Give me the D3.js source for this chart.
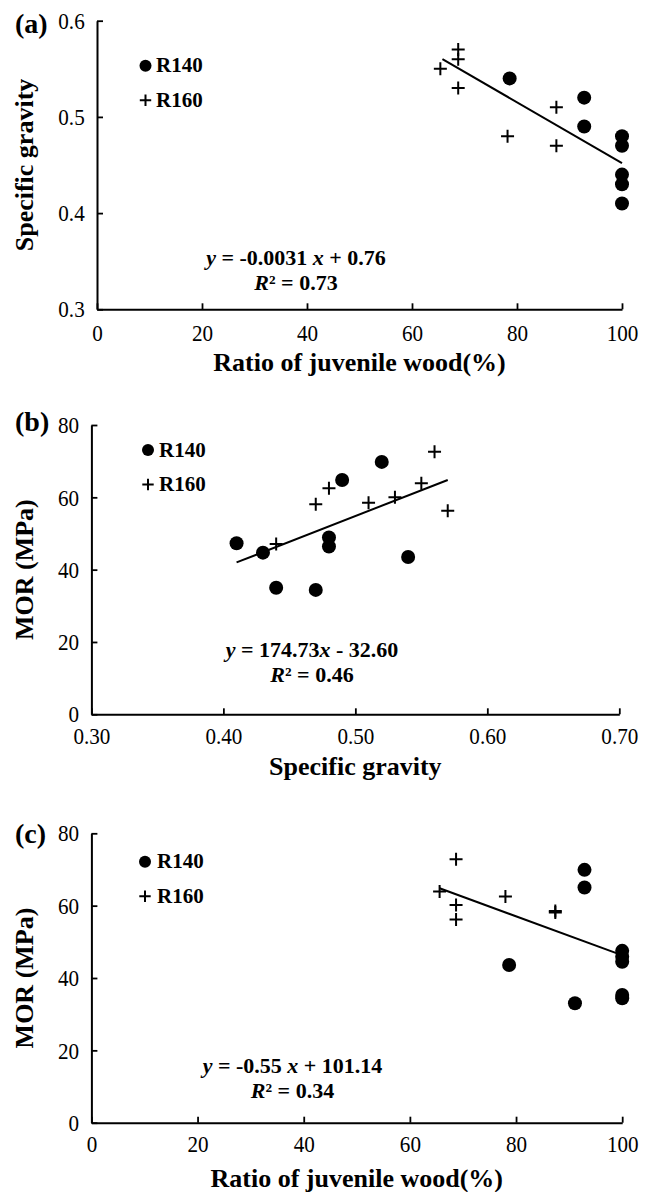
<!DOCTYPE html>
<html>
<head>
<meta charset="utf-8">
<script src="https://cdn.jsdelivr.net/npm/d3@7"></script>
<style>
  body { margin: 0; background: #fff; }
  svg text { font-family: "Liberation Serif", "Times New Roman", serif; fill: #000; }
</style>
</head>
<body>
<div id="chart"></div>
<script>
// (a) specific gravity vs ratio of juvenile wood (%)
var sgJuvR140 = [[78.6,0.54],[92.8,0.52],[92.8,0.49],[100,0.48],[100,0.47],[100,0.44],[100,0.43],[100,0.41]];
var sgJuvR160 = [[65.4,0.55],[68.8,0.57],[68.8,0.56],[68.8,0.53],[78.2,0.48],[87.5,0.51],[87.5,0.47]];
var sgJuvTrend = [[65.8,0.56],[100,0.452]];
var sgJuvEq = [["y",1],[" = -0.0031 ",0],["x",1],[" + 0.76",0]];
var sgJuvR2 = "0.73";

// (b) MOR vs specific gravity
var morSgR140 = [[0.41,47.3],[0.43,44.7],[0.44,35.0],[0.47,34.4],[0.48,48.9],[0.48,46.4],[0.49,64.8],[0.52,69.8],[0.54,43.5]];
var morSgR160 = [[0.44,47.1],[0.47,58.1],[0.48,62.5],[0.51,58.5],[0.53,60.0],[0.55,63.9],[0.56,72.6],[0.57,56.3]];
var morSgTrend = [[0.41,42.0],[0.57,64.8]];
var morSgEq = [["y",1],[" = 174.73",0],["x",1],[" - 32.60",0]];
var morSgR2 = "0.46";

// (c) MOR vs ratio of juvenile wood (%)
var morJuvR140 = [[78.7,43.6],[92.9,69.9],[92.9,65.0],[91.1,33.0],[100,47.5],[100,45.9],[100,44.5],[100,35.3],[100,34.4]];
var morJuvR160 = [[65.6,63.9],[68.7,72.8],[68.7,60.2],[68.7,56.2],[78.0,62.5],[87.4,58.1],[87.4,58.5]];
var morJuvTrend = [[65.6,64.8],[99.8,46.4]];
var morJuvEq = [["y",1],[" = -0.55 ",0],["x",1],[" + 101.14",0]];
var morJuvR2 = "0.34";

var juvTicks = [0, 20, 40, 60, 80, 100];
var sgTicks = [0.3, 0.4, 0.5, 0.6];
var sgTicksX = [0.3, 0.4, 0.5, 0.6, 0.7];
var morTicks = [0, 20, 40, 60, 80];

var legendLabels = ["R140", "R160"];

var panels = [
  {label: "(a)", labelY: 33, left: 97, right: 622, top: 20.7, bottom: 309.3,
   xDomain: [0, 100], yDomain: [0.3, 0.6], xTicks: juvTicks, yTicks: sgTicks, xFmt: "d", yFmt: ".1f",
   xPad: 15, xTitle: "Ratio of juvenile wood(%)", xTitleY: 371, yTitle: "Specific gravity",
   r140: sgJuvR140, r160: sgJuvR160, trend: sgJuvTrend, eq: sgJuvEq, r2: sgJuvR2,
   eqX: 296, eqY: 265, legX: 145.5, legY: 65.7, legText: 156},
  {label: "(b)", labelY: 431, left: 91.4, right: 619.3, top: 425, bottom: 714.3,
   xDomain: [0.3, 0.7], yDomain: [0, 80], xTicks: sgTicksX, yTicks: morTicks, xFmt: ".2f", yFmt: "d",
   xPad: 13, xTitle: "Specific gravity", xTitleY: 775, yTitle: "MOR (MPa)",
   r140: morSgR140, r160: morSgR160, trend: morSgTrend, eq: morSgEq, r2: morSgR2,
   eqX: 312, eqY: 657, legX: 148, legY: 450, legText: 159},
  {label: "(c)", labelY: 843, left: 91.4, right: 622.2, top: 833.3, bottom: 1122.7,
   xDomain: [0, 100], yDomain: [0, 80], xTicks: juvTicks, yTicks: morTicks, xFmt: "d", yFmt: "d",
   xPad: 12, xTitle: "Ratio of juvenile wood(%)", xTitleY: 1187, yTitle: "MOR (MPa)",
   r140: morJuvR140, r160: morJuvR160, trend: morJuvTrend, eq: morJuvEq, r2: morJuvR2,
   eqX: 292.5, eqY: 1073, legX: 145, legY: 861.7, legText: 157}
];

var svg = d3.select("#chart").append("svg")
  .attr("width", 646)
  .attr("height", 1192);

function plus(sel, s) {
  sel.append("path")
    .attr("d", "M" + (-s) + ",0H" + s + "M0," + (-s) + "V" + s)
    .attr("stroke", "#000")
    .attr("stroke-width", 2)
    .attr("fill", "none");
}

panels.forEach(function(p) {
  var x = d3.scaleLinear().domain(p.xDomain).range([p.left, p.right]);
  var y = d3.scaleLinear().domain(p.yDomain).range([p.bottom, p.top]);
  var g = svg.append("g");

  // axes, ticks point inward
  var ax = g.append("g")
    .attr("transform", "translate(0," + p.bottom + ")")
    .call(d3.axisBottom(x).tickValues(p.xTicks).tickFormat(d3.format(p.xFmt))
      .tickSizeInner(-6).tickSizeOuter(0).tickPadding(p.xPad));
  var ay = g.append("g")
    .attr("transform", "translate(" + p.left + ",0)")
    .call(d3.axisLeft(y).tickValues(p.yTicks).tickFormat(d3.format(p.yFmt))
      .tickSizeInner(-6).tickSizeOuter(0).tickPadding(14));

  [ax, ay].forEach(function(a) {
    a.select(".domain").attr("stroke-width", 2);
    a.selectAll(".tick line").attr("stroke-width", 1.8);
    // narrow, tall digits like the original
    a.selectAll(".tick text").style("font-size", "24px").attr("transform", "scale(0.88,1)");
  });

  // trend line
  g.append("path")
    .datum(p.trend)
    .attr("d", d3.line().x(function(d) { return x(d[0]); }).y(function(d) { return y(d[1]); }))
    .attr("stroke", "#000")
    .attr("stroke-width", 2)
    .attr("fill", "none");

  // R140 = filled circles, R160 = plus
  g.selectAll(".r140")
    .data(p.r140).enter()
    .append("circle").attr("class", "r140")
    .attr("cx", function(d) { return x(d[0]); })
    .attr("cy", function(d) { return y(d[1]); })
    .attr("r", 7)
    .attr("fill", "#000");

  g.selectAll(".r160")
    .data(p.r160).enter()
    .append("g").attr("class", "r160")
    .attr("transform", function(d) { return "translate(" + x(d[0]) + "," + y(d[1]) + ")"; })
    .call(plus, 6.5);

  // legend
  g.append("circle").attr("cx", p.legX).attr("cy", p.legY).attr("r", 6).attr("fill", "#000");
  g.append("g").attr("transform", "translate(" + p.legX + "," + (p.legY + 34.5) + ")").call(plus, 5.7);
  legendLabels.forEach(function(t, i) {
    g.append("text")
      .attr("x", p.legText)
      .attr("y", p.legY + 6.5 + i * 34.5)
      .style("font-size", "21px")
      .style("font-weight", "700")
      .text(t);
  });

  // regression equation
  var eq = g.append("text")
    .attr("x", p.eqX).attr("y", p.eqY)
    .attr("text-anchor", "middle")
    .style("font-size", "22px")
    .style("font-weight", "700");
  p.eq.forEach(function(s) {
    eq.append("tspan").style("font-style", s[1] ? "italic" : "normal").text(s[0]);
  });
  var r2 = g.append("text")
    .attr("x", p.eqX).attr("y", p.eqY + 25)
    .attr("text-anchor", "middle")
    .style("font-size", "22px")
    .style("font-weight", "700");
  r2.append("tspan").style("font-style", "italic").text("R");
  r2.append("tspan").text("\u00b2 = " + p.r2);

  // titles
  g.append("text")
    .attr("x", (p.left + p.right) / 2)
    .attr("y", p.xTitleY)
    .attr("text-anchor", "middle")
    .style("font-size", "26px")
    .style("font-weight", "700")
    .text(p.xTitle);

  g.append("text")
    .attr("transform", "translate(33," + ((p.top + p.bottom) / 2) + ") rotate(-90)")
    .attr("text-anchor", "middle")
    .style("font-size", "26px")
    .style("font-weight", "700")
    .text(p.yTitle);

  g.append("text")
    .attr("x", 15)
    .attr("y", p.labelY)
    .style("font-size", "28px")
    .style("font-weight", "700")
    .text(p.label);
});
</script>
</body>
</html>
